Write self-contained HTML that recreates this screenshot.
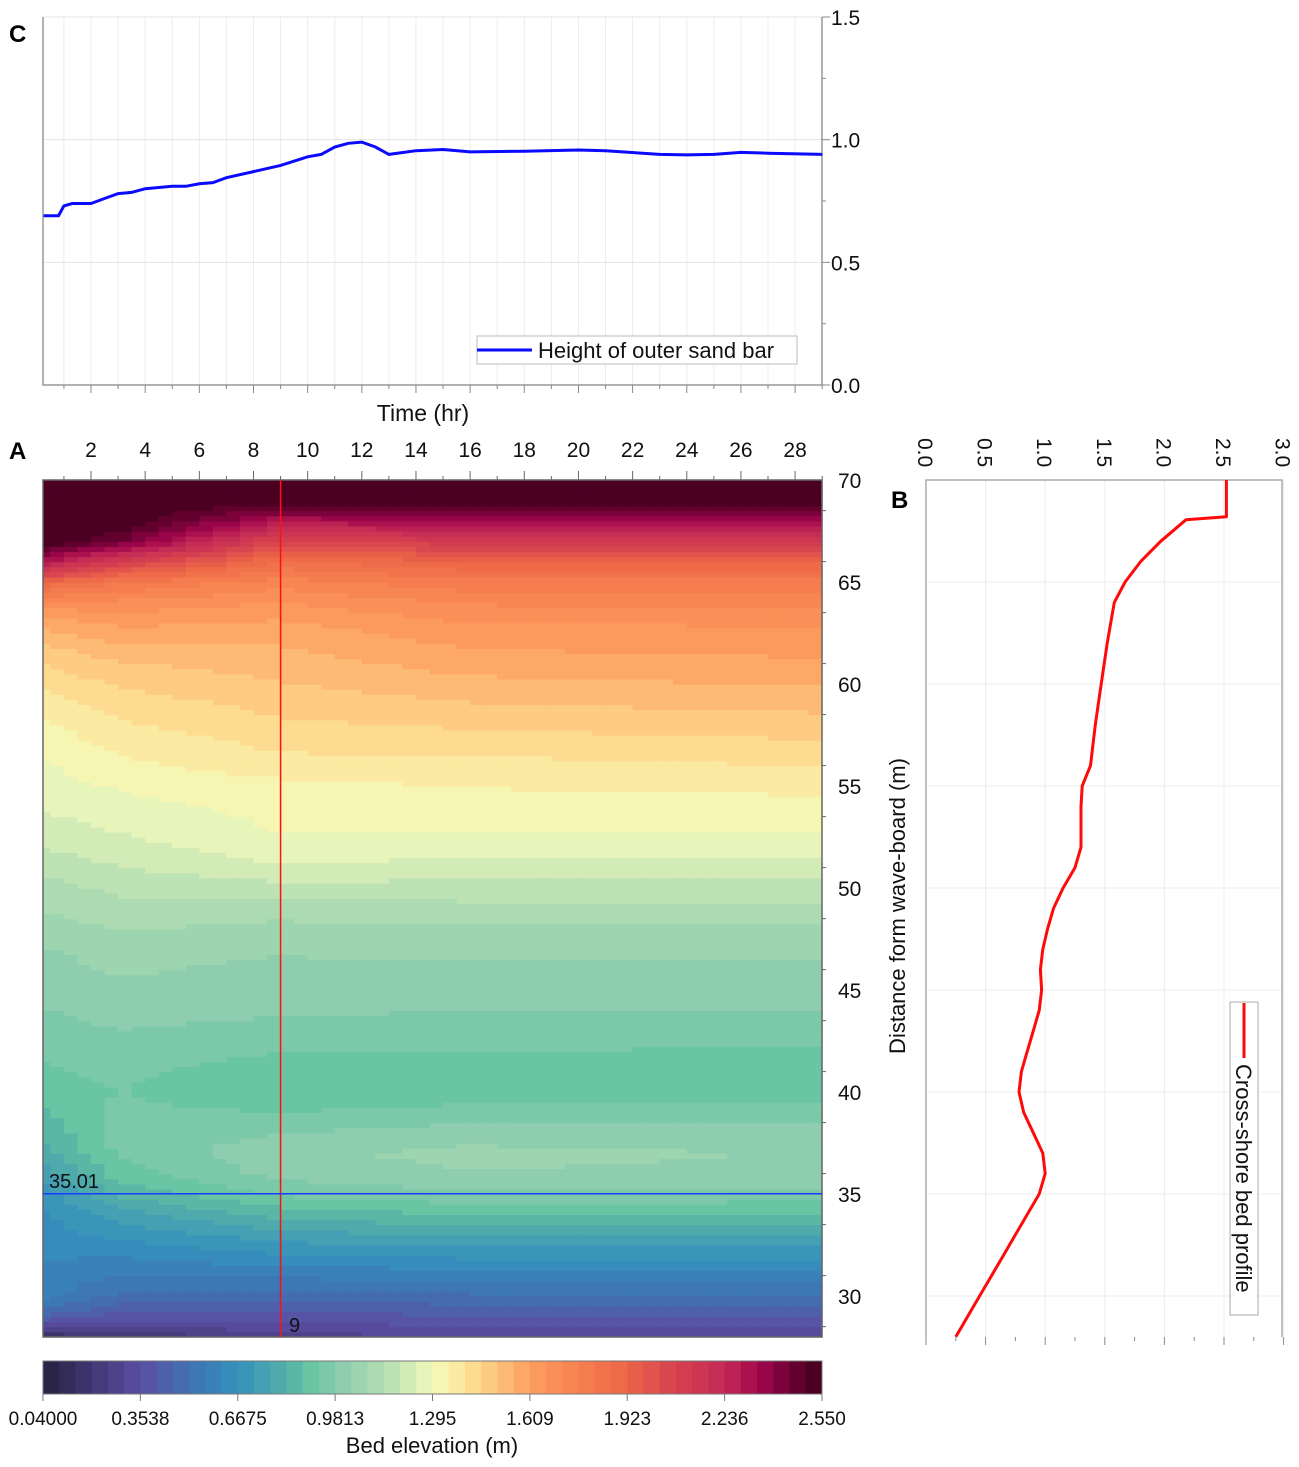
<!DOCTYPE html>
<html><head><meta charset="utf-8"><style>
html,body{margin:0;padding:0;background:#fff;}
svg{display:block;font-family:"Liberation Sans",sans-serif;}
</style></head><body>
<svg id="fig" width="1299" height="1467" viewBox="0 0 1299 1467" xmlns="http://www.w3.org/2000/svg">
<g id="panelC"></g>
<g id="panelA"></g>
<g id="panelB"></g>
<g id="cbar"></g>
</svg>
<script>
// ---------- DATA ----------
const barTimes = [0.25,0.8,1,1.3,2,2.5,3,3.5,4,4.5,5,5.5,6,6.5,7,8,9,10,10.5,11,11.5,12,12.5,13,14,15,16,18,20,21,23,24,25,26,27,29];
const barHeights = [0.69,0.69,0.73,0.74,0.74,0.76,0.78,0.785,0.80,0.805,0.81,0.81,0.82,0.825,0.845,0.87,0.895,0.93,0.94,0.97,0.985,0.99,0.97,0.94,0.955,0.96,0.95,0.953,0.958,0.955,0.94,0.938,0.94,0.948,0.945,0.94];

const distances = [28,29,30,31,32,33,34,35,36,37,38,39,40,41,42,43,44,45,46,47,48,49,50,51,52,53,54,55,56,57,58,59,60,61,62,63,64,65,66,67,68,69,70];
const profileTimes = [0.25,3,9,16,29];
const elevT0 = [0.15,0.45,0.58,0.6,0.62,0.64,0.66,0.7,0.75,0.8,0.84,0.87,0.9,0.92,0.94,0.96,0.98,1.0,1.01,1.03,1.06,1.09,1.12,1.15,1.19,1.22,1.25,1.27,1.29,1.31,1.34,1.37,1.41,1.45,1.5,1.58,1.7,1.9,2.3,2.55,2.55,2.55,2.55];
const elevT3 = [0.2,0.38,0.5,0.56,0.62,0.68,0.75,0.83,0.9,0.94,0.95,0.94,0.93,0.94,0.96,0.98,1.0,1.02,1.04,1.06,1.09,1.12,1.15,1.19,1.22,1.25,1.28,1.3,1.33,1.36,1.39,1.42,1.46,1.5,1.56,1.62,1.7,1.82,2.1,2.45,2.55,2.55,2.55];
const elevT9 = [0.28,0.38,0.48,0.57,0.66,0.75,0.84,0.94,1.0,1.02,0.98,0.93,0.89,0.9,0.93,0.96,0.99,1.01,1.02,1.04,1.07,1.11,1.17,1.23,1.28,1.3,1.31,1.33,1.38,1.41,1.44,1.47,1.5,1.53,1.56,1.6,1.66,1.74,1.86,2.05,2.3,2.55,2.55];
const elevT16 = [0.3,0.4,0.5,0.59,0.68,0.78,0.88,0.97,1.03,1.05,1.01,0.95,0.9,0.9,0.93,0.96,0.98,1.0,1.02,1.05,1.08,1.12,1.17,1.22,1.27,1.3,1.32,1.35,1.38,1.42,1.46,1.5,1.54,1.58,1.62,1.66,1.72,1.8,1.92,2.12,2.35,2.55,2.55];
const elevT29 = [0.3,0.4,0.5,0.59,0.68,0.78,0.87,0.96,1.02,1.03,1.0,0.95,0.91,0.9,0.92,0.95,0.98,1.0,1.02,1.05,1.08,1.12,1.17,1.22,1.27,1.3,1.33,1.36,1.4,1.44,1.48,1.52,1.56,1.6,1.63,1.67,1.73,1.8,1.92,2.12,2.35,2.55,2.55];

const bedDist = [70,68.2,68.05,67,66,65,64,62,60,58,57,56,55,54,52,51,50,49,48,47,46,45,44,43,42,41,40,39,38,37,36,35,34,33,32,31,30,29,28.2,28];
const bedElev = [2.52,2.52,2.18,1.97,1.8,1.67,1.58,1.52,1.47,1.42,1.40,1.38,1.31,1.30,1.30,1.25,1.15,1.07,1.02,0.98,0.96,0.97,0.95,0.9,0.85,0.8,0.78,0.82,0.9,0.98,1.0,0.95,0.85,0.75,0.65,0.55,0.45,0.35,0.27,0.25];

const timeTicks = [2,4,6,8,10,12,14,16,18,20,22,24,26,28];
const cTicks = [0,0.5,1.0,1.5];
const distTicks = [30,35,40,45,50,55,60,65,70];
const bTicks = [0,0.5,1,1.5,2,2.5,3];
const cbarLabels = ["0.04000","0.3538","0.6675","0.9813","1.295","1.609","1.923","2.236","2.550"];

// ---------- SCALES ----------
const NS="http://www.w3.org/2000/svg";
const xT = t => 36.85 + t*27.08;
const yC = v => 385 - v*245.33;
const yD = d => 480 + (70-d)*20.4;
const xB = v => 926 + v*119.2;
const VMIN=0.04, VMAX=2.55, NLEV=48;
const stops=[[0,"#262040"],[0.125,"#5b4ea4"],[0.2,"#3c78b5"],[0.25,"#3591bd"],[0.31,"#52aea8"],[0.34,"#66c4a2"],[0.375,"#86cbae"],[0.44,"#b5dfb3"],[0.5,"#f3fabb"],[0.54,"#fde59a"],[0.58,"#fdc67d"],[0.625,"#fd9f5e"],[0.69,"#f6804f"],[0.75,"#ec6548"],[0.81,"#d6434f"],[0.875,"#c22a55"],[0.92,"#a2064c"],[0.96,"#6c0033"],[1,"#40001c"]];
function hex(h){return [1,3,5].map(i=>parseInt(h.substr(i,2),16));}
function cmapF(f){f=Math.max(0,Math.min(1,f));for(let i=1;i<stops.length;i++){if(f<=stops[i][0]){const a=stops[i-1],b=stops[i];const u=(f-a[0])/(b[0]-a[0]);const c1=hex(a[1]),c2=hex(b[1]);return "rgb("+c1.map((c,k)=>Math.round(c+(c2[k]-c)*u)).join(",")+")";}}return stops[stops.length-1][1];}
function colorFor(v){let f=(v-VMIN)/(VMAX-VMIN);let lvl=Math.min(NLEV-1,Math.max(0,Math.floor(f*NLEV)));return cmapF((lvl+0.5)/NLEV);}
function el(tag,attrs,parent,text){const e=document.createElementNS(NS,tag);for(const k in attrs)e.setAttribute(k,attrs[k]);if(text!==undefined)e.textContent=text;parent.appendChild(e);return e;}
function interp(xs,ys,x){for(let i=1;i<xs.length;i++){if(x<=xs[i]){const u=(x-xs[i-1])/(xs[i]-xs[i-1]);return ys[i-1]+(ys[i]-ys[i-1])*u;}}return ys[ys.length-1];}
const profiles=[elevT0,elevT3,elevT9,elevT16,elevT29];
function field(t,d){const pv=profiles.map(p=>interp(distances,p,d));return interp(profileTimes,pv,Math.max(0.25,Math.min(29,t)));}

// ---------- PANEL C ----------
const C=document.getElementById('panelC');
for(let t=1;t<=29;t++){const g=el('line',{x1:xT(t),x2:xT(t),y1:17,y2:385,stroke:"#ececec","stroke-width":1},C);}
cTicks.forEach(v=>{const g=el('line',{x1:43,x2:822,y1:yC(v),y2:yC(v),stroke:"#e4e4e4","stroke-width":1},C);});
el('path',{d:"M43,17 V385 H822 V17",fill:"none",stroke:"#999","stroke-width":1.5},C);
for(let t=1;t<=29;t++){const l=el('line',{x1:xT(t),x2:xT(t),y1:385,y2:t%2?389:393,stroke:"#888","stroke-width":1},C);}
for(let v=0;v<=1.5001;v+=0.25){const l=el('line',{x1:822,x2:v%0.5<0.01?830:826,y1:yC(v),y2:yC(v),stroke:"#888","stroke-width":1},C);}
cTicks.forEach(v=>{const tx=el('text',{x:831,y:yC(v)+8,"font-size":21,fill:"#111"},C,v.toFixed(1));});
const cp=barTimes.map((t,i)=>(i?"L":"M")+xT(t).toFixed(1)+","+yC(barHeights[i]).toFixed(1)).join(" ");
const cl=el('path',{d:cp,fill:"none",stroke:"#0a0aff","stroke-width":3},C);

const lg=el('g',{},C);
el('rect',{x:477,y:336,width:320,height:28,fill:"#fff",stroke:"#bbb","stroke-width":1},lg);
el('line',{x1:477,x2:532,y1:350,y2:350,stroke:"#0a0aff","stroke-width":3},lg);
el('text',{x:538,y:358,"font-size":22,fill:"#111"},lg,"Height of outer sand bar");
const ct=el('text',{x:423,y:421,"font-size":23,fill:"#111","text-anchor":"middle"},C,"Time (hr)");
const lc=el('text',{x:9,y:42,"font-size":24,"font-weight":"bold",fill:"#000"},C,"C");

// ---------- PANEL A (heatmap) ----------
const A=document.getElementById('panelA');
const hm=el('g',{},A);
const dt=0.5, dd=0.25;
for(let t=0;t<29.25;t+=dt){
  const x0=Math.max(43,xT(t)), x1=Math.min(822,xT(t+dt));
  if(x1<=x0) continue;
  for(let d=28;d<70;d+=dd){
    const v=field(t+dt/2,d+dd/2);
    const r=el('rect',{x:x0.toFixed(2),y:yD(d+dd).toFixed(2),width:(x1-x0+0.6).toFixed(2),height:(dd*20.4+0.6).toFixed(2),fill:colorFor(v)},hm);
    
    
  }
}
el('rect',{x:43,y:480,width:779,height:857,fill:"none",stroke:"#666","stroke-width":1.5},A);
for(let t=1;t<=29;t++){const l=el('line',{x1:xT(t),x2:xT(t),y1:480,y2:t%2?476:471,stroke:"#666","stroke-width":1},A);}
timeTicks.forEach(t=>{const tx=el('text',{x:xT(t),y:457,"font-size":21,fill:"#111","text-anchor":"middle"},A,String(t));});
for(let d=28.5;d<=70;d+=2.5){const l=el('line',{x1:822,x2:(d%5===0)?830:826,y1:yD(d),y2:yD(d),stroke:"#666","stroke-width":1},A);}
distTicks.forEach(d=>{const tx=el('text',{x:838,y:yD(d)+8,"font-size":21,fill:"#111"},A,String(d));});
const vl=el('line',{x1:xT(9),x2:xT(9),y1:480,y2:1337,stroke:"#ff1010","stroke-width":1.5},A);
const hl=el('line',{x1:43,x2:822,y1:yD(35.01),y2:yD(35.01),stroke:"#1a3cff","stroke-width":1.5},A);
const t1=el('text',{x:49,y:yD(35.01)-6,"font-size":20,fill:"#111"},A,"35.01");
const t2=el('text',{x:289,y:1332,"font-size":20,fill:"#111"},A,"9");
const la=el('text',{x:9,y:459,"font-size":24,"font-weight":"bold",fill:"#000"},A,"A");

// ---------- PANEL B ----------
const B=document.getElementById('panelB');
bTicks.forEach(v=>{const g=el('line',{x1:xB(v),x2:xB(v),y1:480,y2:1337,stroke:"#ececec","stroke-width":1},B);});
distTicks.forEach(d=>{const g=el('line',{x1:926,x2:1282,y1:yD(d),y2:yD(d),stroke:"#ececec","stroke-width":1},B);});
el('path',{d:"M926,1337 V480 H1282 V1337",fill:"none",stroke:"#aaa","stroke-width":1.5},B);
for(let v=0;v<=3.001;v+=0.25){const l=el('line',{x1:xB(v),x2:xB(v),y1:1337,y2:(Math.abs(v*2-Math.round(v*2))<0.01)?1345:1341,stroke:"#888","stroke-width":1},B);}
bTicks.forEach(v=>{const tx=el('text',{x:0,y:0,"font-size":21,fill:"#111",transform:"translate("+(xB(v)-8)+",438) rotate(90)"},B,v.toFixed(1));});
const bp=bedDist.map((d,i)=>(i?"L":"M")+xB(bedElev[i]).toFixed(1)+","+yD(d).toFixed(1)).join(" ");
const bl=el('path',{d:bp,fill:"none",stroke:"#ff0a0a","stroke-width":3,"stroke-linejoin":"round"},B);
const bg=el('g',{},B);
el('rect',{x:1230,y:1002,width:28,height:313,fill:"#fff",stroke:"#aaa","stroke-width":1},bg);
el('line',{x1:1244,x2:1244,y1:1003,y2:1058,stroke:"#ff0a0a","stroke-width":3},bg);
el('text',{x:0,y:0,"font-size":22,fill:"#111",transform:"translate(1236,1064) rotate(90)"},bg,"Cross-shore bed profile");
const yt=el('text',{x:0,y:0,"font-size":22,fill:"#111","text-anchor":"middle",transform:"translate(905,906) rotate(-90)"},B,"Distance form wave-board (m)");
const lb=el('text',{x:891,y:508,"font-size":24,"font-weight":"bold",fill:"#000"},B,"B");

// ---------- COLORBAR ----------
const CB=document.getElementById('cbar');
const cw=779/NLEV;
for(let i=0;i<NLEV;i++){const r=el('rect',{x:(43+i*cw).toFixed(2),y:1361,width:(cw+0.5).toFixed(2),height:33,fill:cmapF((i+0.5)/NLEV)},CB);}
el('rect',{x:43,y:1361,width:779,height:33,fill:"none",stroke:"#777","stroke-width":1},CB);
cbarLabels.forEach((s,i)=>{const x=43+i*779/8;el('line',{x1:x,x2:x,y1:1394,y2:1401,stroke:"#777","stroke-width":1},CB);const tx=el('text',{x:x,y:1425,"font-size":19,fill:"#111","text-anchor":"middle"},CB,s);});
const cbt=el('text',{x:432,y:1453,"font-size":22,fill:"#111","text-anchor":"middle"},CB,"Bed elevation (m)");
</script>
</body></html>
